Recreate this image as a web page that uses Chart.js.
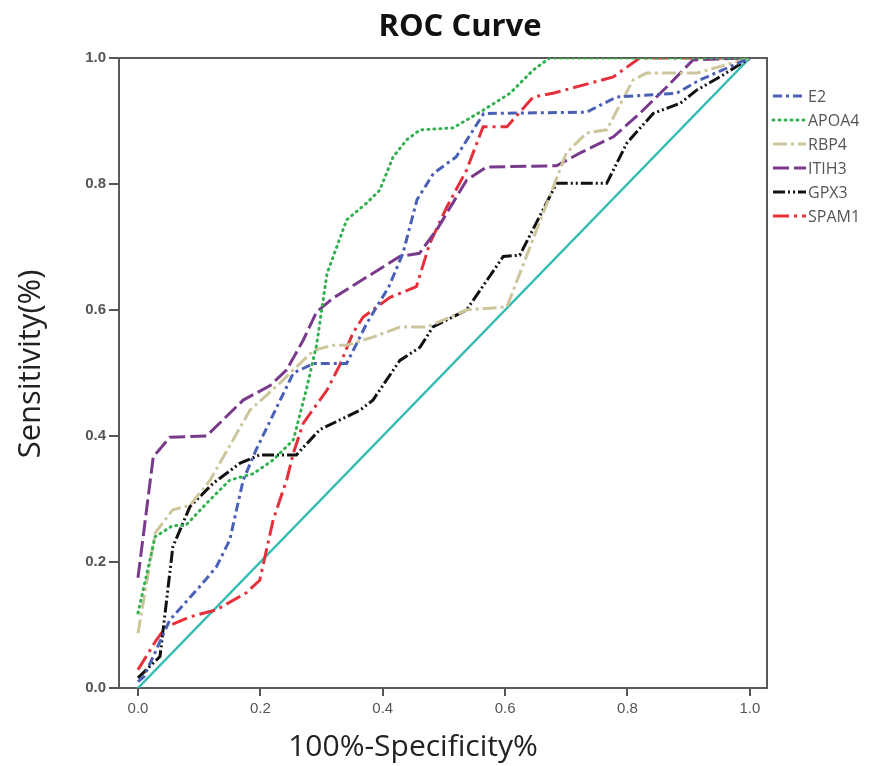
<!DOCTYPE html>
<html>
<head>
<meta charset="utf-8">
<script src="https://cdn.jsdelivr.net/npm/chart.js@4.4.1/dist/chart.umd.min.js"></script>
<style>
  html, body { margin: 0; padding: 0; background: #ffffff; }
  #wrap { width: 896px; height: 766px; }
</style>
</head>
<body>
<div id="wrap"><canvas id="c" width="896" height="766"></canvas></div>
<script>
// ---- Data ----
const seriesNames = ["E2", "APOA4", "RBP4", "ITIH3", "GPX3", "SPAM1"];

const e2X = [0, 0.01, 0.052, 0.10, 0.128, 0.15, 0.172, 0.193, 0.227, 0.254, 0.287, 0.341, 0.374, 0.41, 0.433, 0.456, 0.483, 0.52, 0.565, 0.733, 0.782, 0.88, 0.918, 1.0];
const e2Y = [0.01, 0.018, 0.108, 0.16, 0.192, 0.235, 0.33, 0.378, 0.446, 0.5, 0.515, 0.515, 0.579, 0.637, 0.69, 0.775, 0.817, 0.843, 0.912, 0.914, 0.938, 0.944, 0.965, 1.0];

const apoa4X = [0, 0.028, 0.057, 0.078, 0.112, 0.15, 0.188, 0.221, 0.254, 0.275, 0.292, 0.309, 0.341, 0.374, 0.395, 0.417, 0.439, 0.461, 0.515, 0.564, 0.608, 0.646, 0.673, 1.0];
const apoa4Y = [0.119, 0.24, 0.258, 0.258, 0.293, 0.33, 0.34, 0.362, 0.394, 0.473, 0.545, 0.658, 0.743, 0.77, 0.79, 0.843, 0.87, 0.886, 0.889, 0.917, 0.944, 0.981, 1.0, 1.0];

const rbp4X = [0, 0.028, 0.057, 0.085, 0.118, 0.183, 0.232, 0.287, 0.319, 0.341, 0.384, 0.428, 0.472, 0.537, 0.603, 0.70, 0.733, 0.766, 0.809, 0.831, 0.913, 1.0];
const rbp4Y = [0.087, 0.246, 0.283, 0.29, 0.33, 0.441, 0.484, 0.536, 0.544, 0.544, 0.557, 0.573, 0.573, 0.6, 0.605, 0.849, 0.881, 0.886, 0.965, 0.976, 0.976, 1.0];

const itih3X = [0, 0.025, 0.052, 0.112, 0.172, 0.216, 0.243, 0.27, 0.292, 0.319, 0.428, 0.46, 0.49, 0.537, 0.57, 0.684, 0.722, 0.777, 0.82, 0.864, 0.907, 1.0];
const itih3Y = [0.175, 0.367, 0.398, 0.40, 0.457, 0.48, 0.505, 0.552, 0.597, 0.619, 0.685, 0.69, 0.73, 0.806, 0.827, 0.829, 0.849, 0.875, 0.912, 0.954, 0.997, 1.0];

const gpx3X = [0, 0.036, 0.057, 0.085, 0.123, 0.167, 0.199, 0.259, 0.297, 0.363, 0.384, 0.428, 0.461, 0.482, 0.537, 0.597, 0.624, 0.684, 0.766, 0.799, 0.842, 0.886, 0.913, 0.951, 1.0];
const gpx3Y = [0.016, 0.05, 0.224, 0.288, 0.325, 0.357, 0.37, 0.37, 0.41, 0.441, 0.457, 0.52, 0.541, 0.573, 0.6, 0.685, 0.687, 0.801, 0.801, 0.865, 0.912, 0.928, 0.949, 0.97, 1.0];

const spam1X = [0, 0.03, 0.046, 0.085, 0.128, 0.177, 0.199, 0.221, 0.243, 0.254, 0.27, 0.309, 0.33, 0.351, 0.368, 0.412, 0.455, 0.477, 0.505, 0.537, 0.564, 0.603, 0.646, 0.678, 0.777, 0.82, 1.0];
const spam1Y = [0.029, 0.076, 0.097, 0.113, 0.124, 0.151, 0.171, 0.267, 0.33, 0.373, 0.42, 0.473, 0.513, 0.563, 0.589, 0.62, 0.637, 0.706, 0.764, 0.822, 0.891, 0.891, 0.938, 0.944, 0.97, 1.0, 1.0];

const refX = [0, 1];
const refY = [0, 1];

const xTickValues = [0, 0.2, 0.4, 0.6, 0.8, 1.0];
const yTickValues = [0, 0.2, 0.4, 0.6, 0.8, 1.0];

const titleText = "ROC Curve";
const xTitleText = "100%-Specificity%";
const yTitleText = "Sensitivity(%)";

// ---- Build datasets ----
function pts(xs, ys) { return xs.map((x, i) => ({ x: x, y: ys[i] })); }

const styles = [
  { color: "#4a5fb6", dash: [9, 4, 3, 4], cap: "butt" },
  { color: "#33b150", dash: [1, 5], cap: "round" },
  { color: "#cdc69c", dash: [14, 4, 3, 4], cap: "butt" },
  { color: "#7a3a8c", dash: [16, 5], cap: "butt" },
  { color: "#111111", dash: [12, 3, 2, 3, 2, 3], cap: "butt" },
  { color: "#e6303b", dash: [16, 5, 3, 5], cap: "butt" }
];
const seriesData = [
  pts(e2X, e2Y), pts(apoa4X, apoa4Y), pts(rbp4X, rbp4Y),
  pts(itih3X, itih3Y), pts(gpx3X, gpx3Y), pts(spam1X, spam1Y)
];

const datasets = seriesNames.map((name, i) => ({
  label: name,
  data: seriesData[i],
  borderColor: styles[i].color,
  backgroundColor: styles[i].color,
  borderDash: styles[i].dash,
  borderCapStyle: styles[i].cap,
  borderWidth: 3,
  pointRadius: 0,
  tension: 0,
  fill: false
}));
datasets.push({
  label: "ref",
  data: pts(refX, refY),
  borderColor: "#35bdb3",
  borderWidth: 2.5,
  pointRadius: 0,
  fill: false
});

// ---- Plugins ----
const framePlugin = {
  id: "frame",
  beforeDatasetsDraw(chart) {
    const a = chart.chartArea, ctx = chart.ctx;
    ctx.save();
    ctx.strokeStyle = "#5a5a5a";
    ctx.lineWidth = 2;
    ctx.strokeRect(a.left, a.top, a.right - a.left, a.bottom - a.top);
    ctx.restore();
  }
};

const textPlugin = {
  id: "texts",
  afterDraw(chart) {
    const ctx = chart.ctx;
    ctx.save();
    // Title
    ctx.fillStyle = "#111";
    ctx.font = "bold 31px 'Open Sans'";
    ctx.textAlign = "center";
    ctx.textBaseline = "middle";
    ctx.fillText(titleText, 460, 27);
    // X title
    ctx.font = "30px 'Open Sans'";
    ctx.fillStyle = "#222";
    ctx.fillText(xTitleText, 413, 747);
    // Y title
    ctx.save();
    ctx.translate(31, 364);
    ctx.rotate(-Math.PI / 2);
    ctx.font = "31px 'Open Sans'";
    ctx.fillText(yTitleText, 0, 0);
    ctx.restore();
    // Legend
    ctx.textAlign = "left";
    ctx.font = "16px 'Open Sans'";
    seriesNames.forEach((name, i) => {
      const y = 96 + i * 24;
      ctx.save();
      ctx.strokeStyle = styles[i].color;
      ctx.lineWidth = 3;
      ctx.lineCap = styles[i].cap;
      ctx.setLineDash(styles[i].dash);
      ctx.beginPath();
      ctx.moveTo(773, y);
      ctx.lineTo(806, y);
      ctx.stroke();
      ctx.restore();
      ctx.fillStyle = "#555";
      ctx.fillText(name, 808, y + 1);
    });
    ctx.restore();
  }
};

new Chart(document.getElementById("c"), {
  type: "line",
  data: { datasets: datasets },
  plugins: [framePlugin, textPlugin],
  options: {
    responsive: false,
    animation: false,
    devicePixelRatio: 1,
    layout: { padding: { left: 0, right: 129, top: 58, bottom: 0 } },
    plugins: { legend: { display: false }, title: { display: false }, tooltip: { enabled: false } },
    scales: {
      x: {
        type: "linear",
        min: -0.031,
        max: 1.028,
        afterBuildTicks(scale) { scale.ticks = xTickValues.map(v => ({ value: v })); },
        afterFit(scale) { scale.height = 78; },
        ticks: {
          callback: v => Number(v).toFixed(1),
          color: "#555",
          font: { family: "'Liberation Sans'", size: 15 },
          padding: 4,
          maxRotation: 0
        },
        grid: { display: true, drawOnChartArea: false, drawTicks: true, tickLength: 8, color: "#555", lineWidth: 2 },
        border: { display: true, color: "#5a5a5a", width: 2 }
      },
      y: {
        type: "linear",
        min: 0,
        max: 1,
        afterBuildTicks(scale) { scale.ticks = yTickValues.map(v => ({ value: v })); },
        afterFit(scale) { scale.width = 119; },
        ticks: {
          callback: v => Number(v).toFixed(1),
          color: "#555",
          font: { family: "'Liberation Sans'", size: 15, weight: "bold" },
          padding: 3
        },
        grid: { display: true, drawOnChartArea: false, drawTicks: true, tickLength: 10, color: "#555", lineWidth: 2 },
        border: { display: true, color: "#5a5a5a", width: 2 }
      }
    }
  }
});
</script>
</body>
</html>
